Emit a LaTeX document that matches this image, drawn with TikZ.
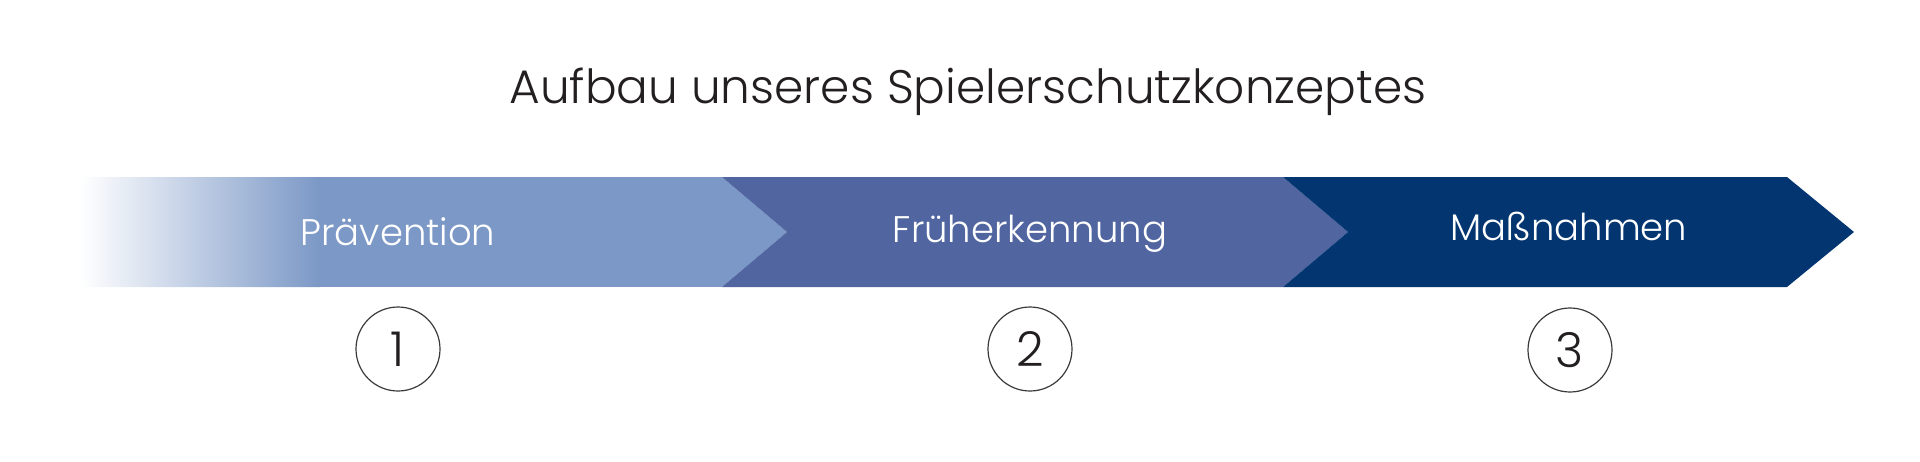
\documentclass[tikz,border=0pt]{standalone}
\usepackage{fontspec}
\setmainfont{Poppins}[UprightFont=* Light]
\begin{document}
\begin{tikzpicture}[x=1pt,y=-1pt,
  lbl/.style={text=white,font=\fontsize{37}{40}\selectfont,anchor=base,inner sep=0pt},
  num/.style={circle,draw=numgray,line width=1.2pt,minimum size=84pt,inner sep=0pt,text=titlegray,font=\fontsize{48}{50}\selectfont}]
\definecolor{cA}{HTML}{7B98C6}
\definecolor{cB}{HTML}{5166A1}
\definecolor{cC}{HTML}{033671}
\definecolor{titlegray}{HTML}{231F20}
\definecolor{numgray}{HTML}{3A3A3A}
\useasboundingbox (0,0) rectangle (1920,461);
% segment 1 with fade-in
\begin{scope}
  \clip (80,177) -- (722,177) -- (787,232) -- (722,287) -- (80,287) -- cycle;
  \fill[cA] (80,177) rectangle (800,287);
  \shade[left color=white,right color=cA] (80,177) rectangle (320,287);
\end{scope}
\fill[cB] (722,177) -- (1283,177) -- (1348,232) -- (1283,287) -- (722,287) -- (787,232) -- cycle;
\fill[cC] (1283,177) -- (1787,177) -- (1854,232) -- (1787,287) -- (1283,287) -- (1348,232) -- cycle;
\node[text=titlegray,font=\fontsize{47}{50}\selectfont,anchor=base,inner sep=0pt] (title) at (968,103) {Aufbau unseres Spielerschutzkonzeptes};
\node[lbl] (p1) at (398,245) {Prävention};
\node[lbl] (p2) at (1030,242) {Früherkennung};
\node[lbl] (p3) at (1569,240) {Maßnahmen};
\node[num] (n1) at (398,349) {1};
\node[num] (n2) at (1030,349) {2};
\node[num] (n3) at (1570,350) {3};
\end{tikzpicture}
\end{document}
